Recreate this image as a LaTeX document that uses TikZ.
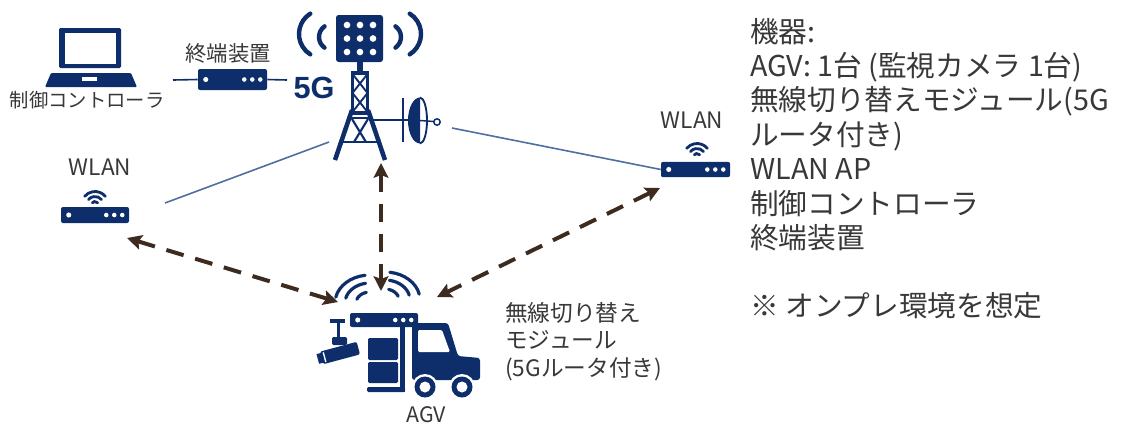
\documentclass[tikz,border=0pt]{standalone}
\usepackage{fontspec}
\setmainfont{Noto Sans CJK JP}
\newfontfamily\latinbold{Liberation Sans}
\usetikzlibrary{calc,arrows.meta}
\definecolor{navy}{HTML}{0E2D6B}
\definecolor{wire}{HTML}{4F6FA0}
\definecolor{link}{HTML}{3D2B1F}
\definecolor{txt}{HTML}{383838}
\tikzset{
  lbl/.style={text=txt, inner sep=0pt},
  router/.style={fill=navy, rounded corners=1.5pt, inner sep=0pt, rectangle},
  wire/.style={draw=wire, line width=1.2pt},
  radio/.style={draw=navy, line width=2pt, line cap=round},
  link/.style={draw=link, line width=3pt, dash pattern=on 13.5pt off 9pt,
    {Stealth[length=11pt,width=11pt,inset=2pt]}-{Stealth[length=11pt,width=11pt,inset=2pt]}},
}
% white status lights of a small network box
\newcommand\boxlights[1]{%
  \fill[white] ($(#1.west)+(8,0)$) circle (1.9pt);
  \foreach \k in {7,15,23} \fill[white] ($(#1.east)+(-\k,0)$) circle (1.7pt);
}
\begin{document}
\begin{tikzpicture}[x=0.75pt, y=0.75pt]
\path[use as bounding box] (0,0) rectangle (1123,-426);

% ---------- laptop (control unit) ----------
\fill[navy, rounded corners=1pt] (59,-28) rectangle (121,-68);
\fill[white] (65,-33) rectangle (116,-64);
\fill[navy, rounded corners=0.8pt] (51,-73) -- (131,-73) -- (137,-87) -- (45,-87) -- cycle;
\fill[white] (82,-77) rectangle (97,-81);
\node[lbl, font=\fontsize{14.5pt}{17pt}\selectfont] (ctrl) at (87,-100) {制御コントローラ};

% ---------- terminal unit ----------
\node[router, minimum width=51.75pt, minimum height=15.75pt] (term) at (232.5,-79.5) {};
\boxlights{term}
\node[lbl, font=\fontsize{16pt}{19pt}\selectfont] (termlbl) at (228,-53) {終端装置};
\coordinate (termL) at (173,-80);
\coordinate (termR) at (287,-80);
\draw[draw=navy, line width=1.2pt] (termL) -- (term.west);
\draw[draw=navy, line width=1.2pt] (term.east) -- (termR);

% ---------- 5G base station ----------
\fill[navy, rounded corners=2pt] (336,-15) rectangle (383,-62);
\foreach \cx in {347,360,373} \foreach \cy in {-25,-38.5,-52}
  \fill[white] (\cx,\cy) circle (2.5pt);
\fill[navy] (357,-60) rectangle (363,-74);
% radio waves
\draw[navy, line width=3.3pt, line cap=round] (323,-34) ++(122:24) arc (122:238:24);
\draw[navy, line width=3.3pt, line cap=round] (332,-37) ++(125:13) arc (125:235:13);
\draw[navy, line width=3.3pt, line cap=round] (397,-34) ++(-58:24) arc (-58:58:24);
\draw[navy, line width=3.3pt, line cap=round] (388,-37) ++(-55:13) arc (-55:55:13);
% lattice mast
\draw[navy, line width=2.4pt] (352.5,-73) rectangle (367.5,-113);
\draw[navy, line width=1.4pt] (352.5,-74) -- (367.5,-93) (367.5,-74) -- (352.5,-93)
  (352.5,-93) -- (367.5,-112) (367.5,-93) -- (352.5,-112);
\draw[navy, line width=3.4pt] (352,-110) -- (335,-160);
\draw[navy, line width=3.4pt] (368,-110) -- (385,-160);
\draw[navy, line width=2.2pt] (349,-118) -- (371,-118);
\draw[navy, line width=1.6pt] (352,-119) -- (366,-142) (368,-119) -- (354,-142);
\draw[navy, line width=2pt] (343,-142) -- (377,-142);
% dish antenna
\draw[navy, line width=2pt] (369,-120) -- (420,-120);
\draw[navy, line width=2.2pt] (403,-98) -- (403,-142);
\fill[navy] (420,-97.5) arc (90:270:12 and 23) -- cycle;
\draw[navy, line width=1.4pt] (420,-97.5) arc (90:-90:7 and 23);
\draw[navy, line width=1.1pt] (420,-120.5) -- (434,-121.5);
\draw[navy, line width=1.1pt] (437,-122) circle (2.4pt);
\node[lbl, text=navy, font=\latinbold\bfseries\fontsize{23pt}{26pt}\selectfont] (fiveg) at (314,-88) {5G};
\coordinate (towerW) at (329,-142);
\coordinate (towerE) at (452,-128);

% ---------- WLAN access points ----------
\node[router, minimum width=51pt, minimum height=12pt] (apL) at (95,-215) {};
\boxlights{apL}
\foreach \r in {3.5,8.5,13.5}
  \draw[radio, line width=2.1pt] (95,-205) ++(40:\r) arc (40:140:\r);
\node[lbl, font=\fontsize{17pt}{20pt}\selectfont] (apLlbl) at (100,-167) {WLAN};
\coordinate (apLwire) at (165,-203);

\node[router, minimum width=51.75pt, minimum height=11.5pt] (apR) at (695.5,-169.5) {};
\boxlights{apR}
\foreach \r in {3.5,8.5,13.5}
  \draw[radio, line width=2.1pt] (697,-157) ++(40:\r) arc (40:140:\r);
\node[lbl, font=\fontsize{17pt}{20pt}\selectfont] (apRlbl) at (692,-120) {WLAN};

% thin wired links of the base station
\draw[wire] (towerW) -- (apLwire);
\draw[wire] (towerE) -- (apR.west);

% ---------- AGV with camera and switching module ----------
% radio waves above the vehicle
\draw[radio, line width=2.4pt] (370,-303) ++(98:35 and 28) arc (98:168:35 and 28);
\draw[radio, line width=2.4pt] (370,-303) ++(100:25 and 20) arc (100:166:25 and 20);
\draw[radio, line width=2.4pt] (370,-303) ++(105:14 and 11) arc (105:160:14 and 11);
\draw[radio, line width=2.4pt] (385,-300) ++(12:35 and 28) arc (12:82:35 and 28);
\draw[radio, line width=2.4pt] (385,-300) ++(14:25 and 20) arc (14:80:25 and 20);
\draw[radio, line width=2.4pt] (385,-300) ++(20:14 and 11) arc (20:75:14 and 11);
% switching module
\node[router, minimum width=51pt, minimum height=10.5pt] (module) at (384,-320) {};
\boxlights{module}
% camera mount and camera
\fill[navy] (330,-319) rectangle (345,-323);
\fill[navy] (336.5,-323) rectangle (340,-338);
\fill[navy, rounded corners=1pt] (332,-337) rectangle (347,-345);
\begin{scope}[shift={(340,-353)}, rotate=15]
  \fill[navy, rounded corners=1.5pt] (-19,-6.5) rectangle (19,6.5);
  \fill[navy] (-23,-5) rectangle (-18,5);
  \draw[white, line width=1pt] (-16,-5) -- (-16,5);
\end{scope}
% cargo and fork
\fill[navy, rounded corners=1pt] (368,-338) rectangle (398,-360);
\fill[navy, rounded corners=1pt] (368,-362) rectangle (398,-383);
\fill[navy] (400,-325) rectangle (405,-392);
\fill[navy, rounded corners=1pt] (367,-387) rectangle (405,-392);
% truck
\fill[navy, rounded corners=2pt] (412,-380) -- (412,-323) -- (448,-323) -- (458,-356)
  -- (480,-358) -- (480,-380) -- cycle;
\fill[white, rounded corners=1pt] (418,-330) -- (442,-330) -- (450,-352) -- (418,-352) -- cycle;
\foreach \wx in {425,462} {
  \fill[white] (\wx,-387) circle (13);
  \fill[navy] (\wx,-387) circle (10.5);
  \fill[white] (\wx,-387) circle (5.5);
}
\node[lbl, font=\fontsize{16pt}{19pt}\selectfont] (agvlbl) at (426,-415) {AGV};
\node[lbl, anchor=base west, font=\fontsize{17pt}{20pt}\selectfont] (mod1) at (505,-321) {無線切り替え};
\node[lbl, anchor=base west, font=\fontsize{17pt}{20pt}\selectfont] (mod2) at (505,-348) {モジュール};
\node[lbl, anchor=base west, font=\fontsize{17pt}{20pt}\selectfont] (mod3) at (505,-376) {(5Gルータ付き)};

% ---------- wireless links ----------
\coordinate (apLlink) at (127,-238);
\coordinate (agvLlink) at (338,-302);
\coordinate (towerlink) at (381,-163);
\coordinate (agvTlink) at (381,-291);
\coordinate (apRlink) at (660,-188);
\coordinate (agvRlink) at (437,-297);
\draw[link] (apLlink) -- (agvLlink);
\draw[link] (towerlink) -- (agvTlink);
\draw[link] (apRlink) -- (agvRlink);

% ---------- equipment list ----------
\foreach \t [count=\i from 0] in {{機器:},{AGV: 1台 (監視カメラ 1台)},{無線切り替えモジュール(5G},
    {ルータ付き)},{WLAN AP},{制御コントローラ},{終端装置}}
  \node[lbl, anchor=base west, font=\fontsize{21.5pt}{26pt}\selectfont] (spec\i) at (750,-42-34.4*\i) {\t};
\node[lbl, anchor=base west, font=\fontsize{21.5pt}{26pt}\selectfont] (note) at (750,-316) {※ オンプレ環境を想定};
\end{tikzpicture}
\end{document}
